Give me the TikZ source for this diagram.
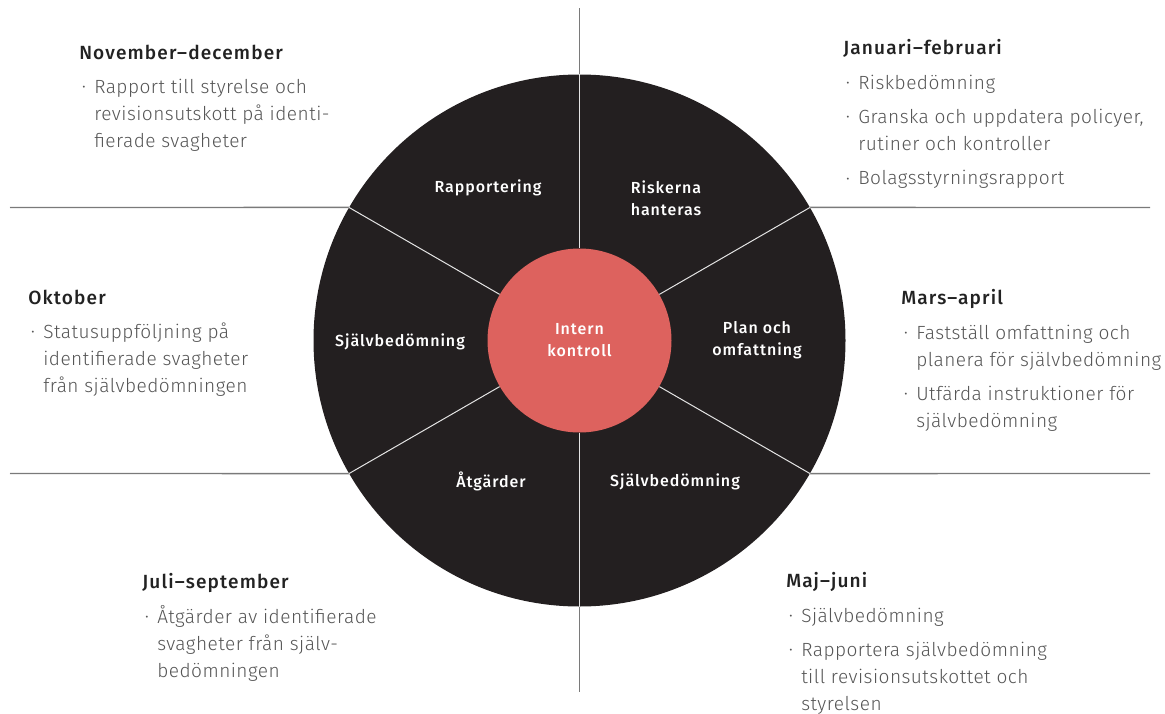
\documentclass[tikz,border=0pt]{standalone}
\usepackage{fontspec}
\setmainfont{Fira Sans Light}[LetterSpace=2.5]
\newfontfamily\headfont{Fira Sans Medium}[LetterSpace=6]
\definecolor{wheelblack}{HTML}{231F20}
\definecolor{corered}{HTML}{DD625E}
\definecolor{bodygray}{HTML}{555555}
\definecolor{headgray}{HTML}{222222}
\definecolor{rulegray}{HTML}{7A7A7A}
\definecolor{spokegray}{HTML}{E4E4E4}
\newcommand{\hd}[1]{\hspace*{-11.25pt}{\color{headgray}\headfont #1}\\[5.5pt]}
\newcommand{\bul}{\llap{\raisebox{1.3pt}{\fontsize{9.5}{9.5}\selectfont\textbullet}\hspace{6.3pt}}}
\newcommand{\gap}{\\[5.5pt]}
\begin{document}
\begin{tikzpicture}[x=0.75pt,y=-0.75pt,
	period/.style={anchor=north west, inner sep=0pt, align=left, text=bodygray, font=\fontsize{14.3}{20.25}\selectfont},
	sector/.style={text=white, align=center, inner sep=0pt, font=\fontsize{12}{16.5}\selectfont\headfont},
	rim/.style={rulegray, line width=1pt},
	spoke/.style={spokegray, line width=0.75pt}]
	
	\useasboundingbox (0,0) rectangle (1165,714);
	
	\coordinate (c) at (579.5,340.5);
	\coordinate (top) at (579.5,8);
	\coordinate (bot) at (579.5,692);
	\coordinate (nw) at (10,207.5);
	\coordinate (sw) at (10,473.5);
	\coordinate (ne) at (1150,207.5);
	\coordinate (se) at (1150,473.5);
	
	\node[circle, fill=wheelblack, minimum size=399pt, inner sep=0pt] (wheel) at (c) {};
	\node[circle, fill=corered, minimum size=138pt, inner sep=0pt, sector] (hub) at (c) {Intern\\kontroll};
	
	\draw[rim] (top) -- (wheel.90);
	\draw[rim] (wheel.270) -- (bot);
	\draw[rim] (nw) -- (wheel.150);
	\draw[rim] (sw) -- (wheel.210);
	\draw[rim] (ne) -- (wheel.30);
	\draw[rim] (se) -- (wheel.330);
	\foreach \a in {30,90,150,210,270,330}
		\draw[spoke] (hub.\a) -- (wheel.\a);
	
	\node[sector] (rapp) at (488,187.5) {Rapportering};
	\node[sector] (risk) at (666,198) {Riskerna\\hanteras};
	\node[sector] (plan) at (757,340.5) {Plan och\\omfattning};
	\node[sector] (sjalvR) at (675,481.5) {Självbedömning};
	\node[sector] (atg) at (491,481.5) {Åtgärder};
	\node[sector] (sjalvL) at (400,341.5) {Självbedömning};
	
	\node[period] (novdec) at (94,44.5) {\hd{November–december}\bul Rapport till styrelse och\\revisionsutskott på identi-\\fierade svagheter};
	\node[period] (janfeb) at (858,39.5) {\hd{Januari–februari}\bul Riskbedömning\gap\bul Granska och uppdatera policyer,\\rutiner och kontroller\gap\bul Bolagsstyrningsrapport};
	\node[period] (okt) at (43,289.5) {\hd{Oktober}\bul Statusuppföljning på\\identifierade svagheter\\från självbedömningen};
	\node[period] (marapr) at (916,289.5) {\hd{Mars–april}\bul Fastställ omfattning och\\planera för självbedömning\gap\bul Utfärda instruktioner för\\självbedömning};
	\node[period] (julsep) at (157,573.5) {\hd{Juli–september}\bul Åtgärder av identifierade\\svagheter från själv-\\bedömningen};
	\node[period] (majjun) at (801,572.5) {\hd{Maj–juni}\bul Självbedömning\gap\bul Rapportera självbedömning\\till revisionsutskottet och\\styrelsen};
	
\end{tikzpicture}
\end{document}
